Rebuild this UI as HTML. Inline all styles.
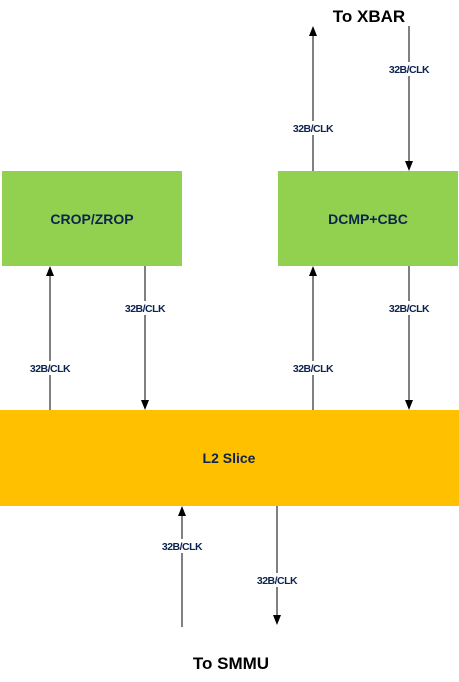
<!DOCTYPE html>
<html><head><style>
body{margin:0;width:459px;height:677px;background:#fff;overflow:hidden}
svg text{font-family:"Liberation Sans",sans-serif;font-weight:bold}
.l{font-size:10.5px;fill:#0d2350;letter-spacing:-0.5px}
</style></head><body>
<svg width="459" height="677" viewBox="0 0 459 677">
<rect x="2" y="171" width="180" height="95" fill="#92d050"/>
<rect x="278" y="171" width="180" height="95" fill="#92d050"/>
<rect x="0" y="410" width="459" height="96" fill="#ffc000"/>
<g stroke="#000" stroke-width="1">
<line x1="50" y1="410" x2="50" y2="275"/>
<line x1="145" y1="266" x2="145" y2="400"/>
<line x1="313" y1="410" x2="313" y2="275"/>
<line x1="409" y1="266" x2="409" y2="400"/>
<line x1="313" y1="171" x2="313" y2="35"/>
<line x1="409" y1="26" x2="409" y2="162"/>
<line x1="182" y1="627" x2="182" y2="515"/>
<line x1="277" y1="506" x2="277" y2="616"/>
</g>
<g fill="#000">
<path d="M50,266 l-4,10 h8z"/>
<path d="M145,410 l-4,-10 h8z"/>
<path d="M313,266 l-4,10 h8z"/>
<path d="M409,410 l-4,-10 h8z"/>
<path d="M313,26 l-4,10 h8z"/>
<path d="M409,171 l-4,-10 h8z"/>
<path d="M182,506 l-4,10 h8z"/>
<path d="M277,625 l-4,-10 h8z"/>
</g>
<g class="l" text-anchor="middle">
<rect x="20" y="361" width="60" height="14" fill="#fff"/><text x="50" y="372">32B/CLK</text>
<rect x="115" y="301" width="60" height="14" fill="#fff"/><text x="145" y="312">32B/CLK</text>
<rect x="283" y="361" width="60" height="14" fill="#fff"/><text x="313" y="372">32B/CLK</text>
<rect x="379" y="301" width="60" height="14" fill="#fff"/><text x="409" y="312">32B/CLK</text>
<rect x="283" y="121" width="60" height="14" fill="#fff"/><text x="313" y="132">32B/CLK</text>
<rect x="379" y="62" width="60" height="14" fill="#fff"/><text x="409" y="73">32B/CLK</text>
<rect x="152" y="539" width="60" height="14" fill="#fff"/><text x="182" y="550">32B/CLK</text>
<rect x="247" y="573" width="60" height="14" fill="#fff"/><text x="277" y="584">32B/CLK</text>
</g>
<g text-anchor="middle" fill="#0d2350" font-size="14">
<text x="92" y="224">CROP/ZROP</text>
<text x="368" y="224">DCMP+CBC</text>
<text x="229" y="463">L2 Slice</text>
</g>
<text x="369" y="22" text-anchor="middle" font-size="17">To XBAR</text>
<text x="231" y="669" text-anchor="middle" font-size="17">To SMMU</text>
</svg>
</body></html>
